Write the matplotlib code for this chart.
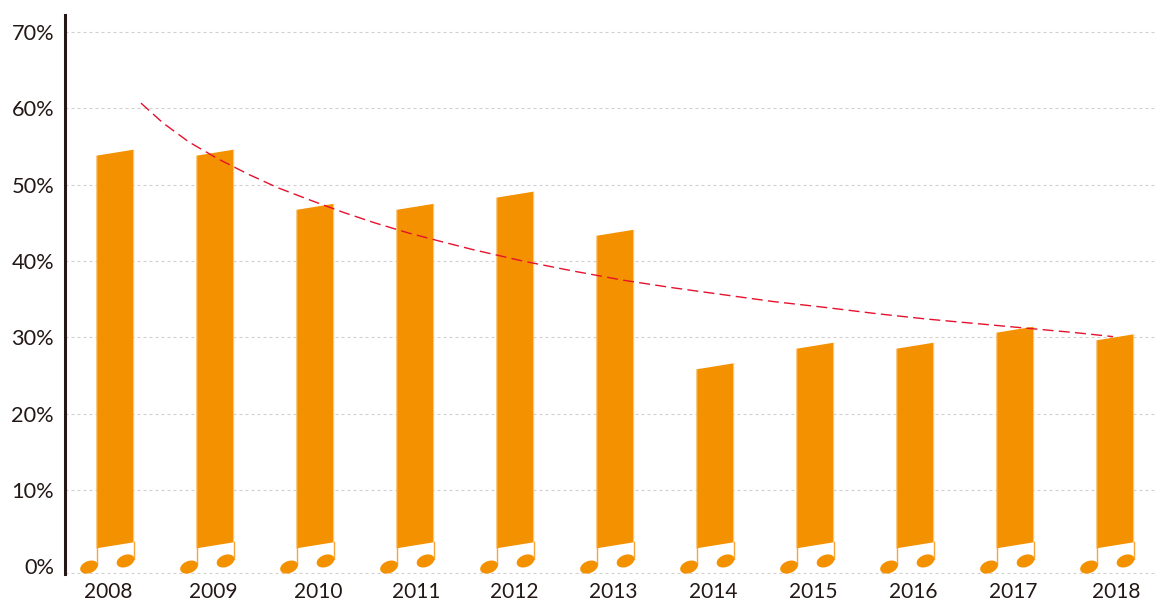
import numpy as np
import matplotlib
matplotlib.use("Agg")
import matplotlib.pyplot as plt

plt.rcParams['font.family'] = ['Lato', 'DejaVu Sans']

years = ['2008', '2009', '2010', '2011', '2012', '2013', '2014', '2015', '2016', '2017', '2018']
values = [54.6, 54.6, 47.5, 47.5, 49.1, 44.1, 26.6, 29.3, 29.3, 31.4, 30.4]
# year labels are not quite centred in the original
label_pos = [-0.07, 0.985, 2.035, 3.015, 3.995, 4.985, 5.985, 6.985, 7.985, 8.985, 10.015]
y_ticks = [0, 10, 20, 30, 40, 50, 60, 70]

trend_x = [0.26, 0.48, 0.74, 1.03, 1.33, 1.63, 1.97, 2.28, 2.60, 2.93, 3.25, 3.58, 4.08,
           4.58, 5.08, 5.58, 6.08, 6.58, 7.12, 7.62, 8.12, 8.62, 9.12, 9.62, 9.98]
trend_y = [60.7, 58.1, 55.6, 53.4, 51.4, 49.6, 47.9, 46.4, 45.0, 43.7, 42.6, 41.5, 40.0,
           38.7, 37.5, 36.5, 35.6, 34.7, 33.9, 33.1, 32.4, 31.8, 31.2, 30.6, 30.1]

orange = '#F49100'
stem = '#F6A63A'
edge = '#FAD39B'

# scale of the axes, used for note shapes that are sized in pixels
px_x = 100.0
px_y = 7.63

fig = plt.figure(figsize=(11.57, 6.01), dpi=100)
ax = fig.add_axes([64.5 / 1157, (601 - 574) / 601, (1157 - 64.5) / 1157, (574 - 15) / 601])
ax.set_xlim(-0.505, 10.42)
ax.set_ylim(-1.01, 72.25)

for t in y_ticks[1:]:
    ax.axhline(t, color='#D0D0D0', lw=0.8, linestyle=(0, (2.7, 2.7)), zorder=1)
ax.axhline(-0.92, color='#D0D0D0', lw=0.8, linestyle=(0, (2.7, 2.7)), zorder=1)

slant = 6 / px_y
half = 18.5 / px_x
low_right = 3.14


def note_head(cx, cy):
    # tilted oval, worked out in pixels so the tilt survives the axes scale
    t = np.linspace(0, 2 * np.pi, 60)
    a, b, rot = 9.2, 6.0, np.radians(22)
    dx = a * np.cos(t) * np.cos(rot) - b * np.sin(t) * np.sin(rot)
    dy = a * np.cos(t) * np.sin(rot) + b * np.sin(t) * np.cos(rot)
    ax.fill(cx + dx / px_x, cy + dy / px_y, color=orange, lw=0, zorder=3)


for i, v in enumerate(values):
    xs = [i - half, i + half, i + half, i - half]
    ys = [low_right - slant, low_right, v, v - slant]
    ax.fill(xs, ys, color=orange, lw=0, zorder=2)
    # light side edges and the stems going down to the heads
    ax.plot([i - half, i - half], [low_right - slant, v - slant], color=edge, lw=0.35, zorder=2)
    ax.plot([i + half, i + half], [low_right, v], color=edge, lw=0.35, zorder=2)
    ax.plot([i - half, i - half], [0.2, low_right - slant], color=stem, lw=1.0, zorder=3)
    ax.plot([i + half, i + half], [0.9, low_right], color=stem, lw=1.0, zorder=3)
    note_head(i - 26 / px_x, -0.1)
    note_head(i + 10.5 / px_x, 0.7)

ax.plot(trend_x, trend_y, color='#E5112D', lw=1.0, linestyle=(0, (7.9, 3.8)), zorder=4)

for s in ['top', 'right', 'bottom']:
    ax.spines[s].set_visible(False)
ax.spines['left'].set_linewidth(2.2)
ax.spines['left'].set_color('#231815')

ax.set_yticks(y_ticks)
ax.set_yticklabels([f'{t}%' for t in y_ticks])
ax.set_xticks(label_pos)
ax.set_xticklabels(years)
ax.tick_params(axis='y', length=0, pad=7.5, labelsize=15.7, labelcolor='#231815')
ax.tick_params(axis='x', length=0, pad=6, labelsize=15, labelcolor='#231815')

plt.savefig('out.png', dpi=100)
